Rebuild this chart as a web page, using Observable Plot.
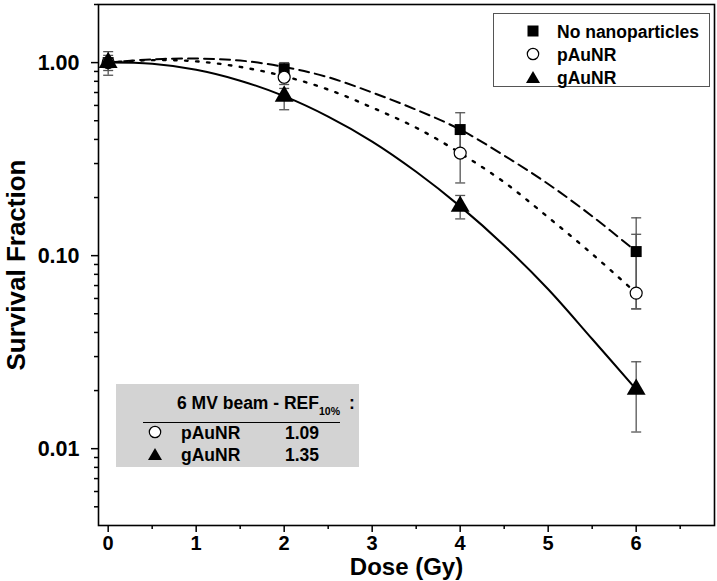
<!DOCTYPE html>
<html>
<head>
<meta charset="utf-8">
<script src="https://cdn.jsdelivr.net/npm/d3@7"></script>
<script src="https://cdn.jsdelivr.net/npm/@observablehq/plot@0.6"></script>
<style>
  body { margin: 0; background: white; }
  #wrap { position: relative; width: 717px; height: 581px; font-family: 'Liberation Sans', Arial, sans-serif; font-weight: bold; }
  #wrap svg g[aria-label="x-axis label"] text { font-size: 24px; }
  #wrap svg g[aria-label="y-axis label"] text { font-size: 26px; }
  #wrap svg g[aria-label="x-axis tick label"] text { font-size: 20px; }
  #wrap svg g[aria-label="y-axis tick label"] text { font-size: 21.5px; }
  .box { position: absolute; }
  .t { position: absolute; white-space: nowrap; font-size: 17.5px; line-height: 1; transform: translateY(-50%); }
  .sym { position: absolute; transform: translate(-50%, -50%); }
</style>
</head>
<body>
<div id="wrap"></div>
<script>
// ---------- data ----------
const series = ["No nanoparticles", "pAuNR", "gAuNR"];
const doses = [0, 2, 4, 6];
const sfNone = [1.0, 0.93, 0.45, 0.105];
const sfNoneLow = [0.86, 0.87, 0.35, 0.053];
const sfNoneHigh = [1.14, 1.0, 0.55, 0.157];
const sfP = [1.0, 0.84, 0.34, 0.064];
const sfPLow = [0.91, 0.77, 0.238, 0.053];
const sfPHigh = [1.09, 0.88, 0.44, 0.129];
const sfG = [1.0, 0.67, 0.18, 0.0203];
const sfGLow = [0.95, 0.57, 0.155, 0.0122];
const sfGHigh = [1.05, 0.735, 0.205, 0.0282];

// fitted curves
const curveDose = [0, 0.5, 1, 1.5, 2, 2.5, 3, 3.5, 4, 4.5, 5, 5.5, 6];
const fitNone = [1.0, 1.04, 1.05, 1.025, 0.95, 0.84, 0.70, 0.57, 0.45, 0.33, 0.235, 0.16, 0.105];
const fitP = [1.0, 1.03, 1.015, 0.95, 0.85, 0.725, 0.585, 0.46, 0.34, 0.24, 0.158, 0.102, 0.064];
const fitG = [1.0, 0.986, 0.918, 0.806, 0.67, 0.525, 0.39, 0.272, 0.18, 0.113, 0.067, 0.037, 0.0203];

// axis ticks
const xMajor = [0, 1, 2, 3, 4, 5, 6];
const xMinor = [0.5, 1.5, 2.5, 3.5, 4.5, 5.5, 6.5];
const yMajor = [0.01, 0.1, 1];
const yMinor = [0.005, 0.006, 0.007, 0.008, 0.009, 0.02, 0.03, 0.04, 0.05, 0.06, 0.07, 0.08, 0.09,
                0.2, 0.3, 0.4, 0.5, 0.6, 0.7, 0.8, 0.9, 2];

// REF10% table
const refNames = ["pAuNR", "gAuNR"];
const refValues = ["1.09", "1.35"];

// ---------- build tables ----------
const pts = (vals, lo, hi, s) => doses.map((d, i) => ({dose: d, sf: vals[i], lo: lo[i], hi: hi[i], s}));
const ptsNone = pts(sfNone, sfNoneLow, sfNoneHigh, series[0]);
const ptsP = pts(sfP, sfPLow, sfPHigh, series[1]);
const ptsG = pts(sfG, sfGLow, sfGHigh, series[2]);
const allPts = [...ptsNone, ...ptsP, ...ptsG];
const curve = (vals) => curveDose.map((d, i) => ({dose: d, sf: vals[i]}));

const capSymbol = { draw(ctx) { ctx.moveTo(-5, 0); ctx.lineTo(5, 0); } };
const errColor = "#555";

const chart = Plot.plot({
  width: 717, height: 581,
  marginLeft: 98, marginRight: 3, marginTop: 4, marginBottom: 56,
  x: {domain: [-0.11, 6.89]},
  y: {type: "log", domain: [0.004, 2]},
  style: {fontFamily: "'Liberation Sans', Arial, sans-serif", fontWeight: "bold", fontSize: "21px", color: "black", background: "white", overflow: "visible"},
  marks: [
    Plot.axisX({ticks: xMajor, tickSize: 7, tickPadding: 3, tickFormat: d3.format("d"), strokeWidth: 1.5,
      label: "Dose (Gy)", labelAnchor: "center", labelOffset: 49, labelArrow: "none"}),
    Plot.axisX({ticks: xMinor, tickSize: 4, strokeWidth: 1.5, tickFormat: () => "", label: null}),
    Plot.axisY({ticks: yMajor, tickSize: 7, tickPadding: 12, tickFormat: d3.format(".2f"), strokeWidth: 1.5,
      label: "Survival Fraction", labelAnchor: "center", labelOffset: 92, labelArrow: "none"}),
    Plot.axisY({ticks: yMinor, tickSize: 4, strokeWidth: 1.5, tickFormat: () => "", label: null}),
    // fitted curves
    Plot.line(curve(fitNone), {x: "dose", y: "sf", curve: "catmull-rom", stroke: "black", strokeWidth: 2, strokeDasharray: "10,6"}),
    Plot.line(curve(fitP), {x: "dose", y: "sf", curve: "catmull-rom", stroke: "black", strokeWidth: 2.4, strokeDasharray: "2.5,8.5"}),
    Plot.line(curve(fitG), {x: "dose", y: "sf", curve: "catmull-rom", stroke: "black", strokeWidth: 2}),
    // error bars
    Plot.ruleX(allPts, {x: "dose", y1: "lo", y2: "hi", stroke: errColor, strokeWidth: 1.3}),
    Plot.dot(allPts, {x: "dose", y: "lo", symbol: capSymbol, stroke: errColor, strokeWidth: 1.3, r: 5}),
    Plot.dot(allPts, {x: "dose", y: "hi", symbol: capSymbol, stroke: errColor, strokeWidth: 1.3, r: 5}),
    // markers
    Plot.dot(ptsNone, {x: "dose", y: "sf", symbol: "square", fill: "black", r: 6.2}),
    Plot.dot(ptsP, {x: "dose", y: "sf", symbol: "circle", fill: "white", stroke: "black", strokeWidth: 1.2, r: 6}),
    Plot.dot(ptsG, {x: "dose", y: "sf", symbol: "triangle", fill: "black", r: 7}),
    Plot.frame({stroke: "black", strokeWidth: 1.6})
  ]
});

const wrap = document.getElementById("wrap");
wrap.appendChild(chart);

// ---------- legend (top right) ----------
const symSvg = {
  "square": '<svg width="14" height="14"><rect x="1.5" y="1.5" width="11" height="11" fill="black"/></svg>',
  "circle": '<svg width="14" height="14"><circle cx="7" cy="7" r="5.7" fill="white" stroke="black" stroke-width="1.2"/></svg>',
  "triangle": '<svg width="16" height="14"><path d="M8 1 L15 13 L1 13 Z" fill="black"/></svg>'
};
const symKeys = ["square", "circle", "triangle"];

const legend = document.createElement("div");
legend.className = "box";
Object.assign(legend.style, {left: "493px", top: "13px", width: "217px", height: "74px", border: "1.3px solid #555", background: "white", boxSizing: "border-box"});
series.forEach((name, i) => {
  const cy = 19 + i * 23;
  const s = document.createElement("div");
  s.className = "sym"; s.style.left = "39px"; s.style.top = cy + "px"; s.innerHTML = symSvg[symKeys[i]];
  legend.appendChild(s);
  const t = document.createElement("div");
  t.className = "t"; t.style.left = "63px"; t.style.top = cy + "px"; t.textContent = name;
  legend.appendChild(t);
});
wrap.appendChild(legend);

// ---------- REF10% table (bottom left) ----------
const inset = document.createElement("div");
inset.className = "box";
Object.assign(inset.style, {left: "116px", top: "384px", width: "243px", height: "83px", background: "#d3d3d3"});
const title = document.createElement("div");
title.className = "t"; title.style.left = "61px"; title.style.top = "22px";
title.innerHTML = '6 MV beam - REF<sub style="font-size:10.5px; vertical-align:-6px">10%</sub> <span style="margin-left:4px">:</span>';
inset.appendChild(title);
const rule = document.createElement("div");
Object.assign(rule.style, {position: "absolute", left: "27px", top: "38px", width: "197px", height: "0", borderTop: "1.3px solid black"});
inset.appendChild(rule);
refNames.forEach((name, i) => {
  const cy = 50 + i * 22;
  const s = document.createElement("div");
  s.className = "sym"; s.style.left = "39px"; s.style.top = cy + "px"; s.innerHTML = symSvg[symKeys[i + 1]];
  inset.appendChild(s);
  const t = document.createElement("div");
  t.className = "t"; t.style.left = "65px"; t.style.top = cy + "px"; t.textContent = name;
  inset.appendChild(t);
  const v = document.createElement("div");
  v.className = "t"; v.style.left = "169px"; v.style.top = cy + "px"; v.textContent = refValues[i];
  inset.appendChild(v);
});
wrap.appendChild(inset);
</script>
</body>
</html>
